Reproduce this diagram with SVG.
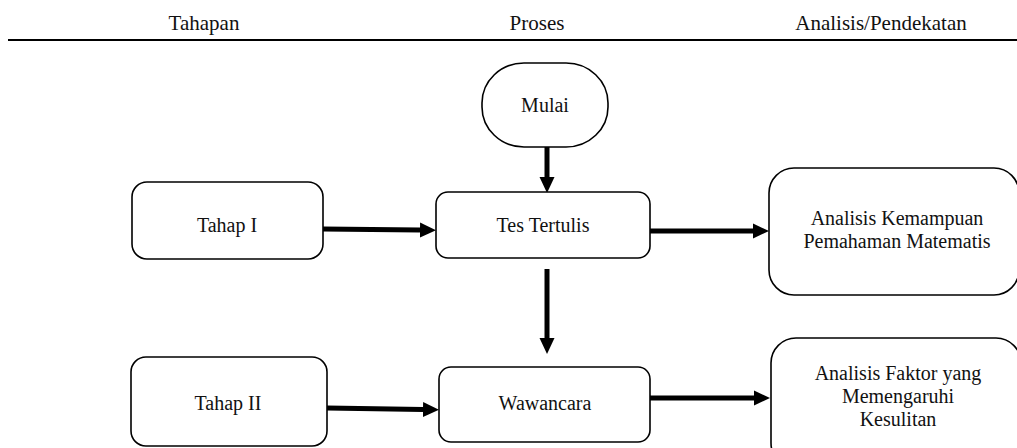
<svg xmlns="http://www.w3.org/2000/svg" width="1017" height="448" viewBox="0 0 1017 448">
<style>
  text { font-family: "Liberation Serif", "Times New Roman", serif; font-size: 20px; fill: #111; text-anchor: middle; }
  .hdr { font-size: 21px; }
  .box { fill: #fff; stroke: #000; stroke-width: 1.6; }
  .arrow { stroke: #000; stroke-width: 5; fill: none; marker-end: url(#head); }
</style>
<defs>
  <marker id="head" viewBox="0 0 16 16" refX="0" refY="8" markerWidth="16" markerHeight="16" markerUnits="userSpaceOnUse" orient="auto">
    <path d="M0,0.5 L16,8 L0,15.5 z" fill="#000"/>
  </marker>
</defs>
<rect width="1017" height="448" fill="#fff"/>
<g id="header">
  <line x1="8" y1="40" x2="1017" y2="40" stroke="#000" stroke-width="2"/>
  <text class="hdr" x="204" y="30">Tahapan</text>
  <text class="hdr" x="537" y="30">Proses</text>
  <text class="hdr" x="881" y="30">Analisis/Pendekatan</text>
</g>
<g id="connectors">
  <line class="arrow" x1="547" y1="147" x2="547" y2="177"/>
  <line class="arrow" x1="323" y1="229" x2="420" y2="230"/>
  <line class="arrow" x1="650" y1="231" x2="753" y2="231"/>
  <line class="arrow" x1="547" y1="269" x2="547" y2="338"/>
  <line class="arrow" x1="327" y1="408" x2="423" y2="409.5"/>
  <line class="arrow" x1="650" y1="398" x2="754" y2="398"/>
</g>
<g id="mulai">
  <rect class="box" x="482" y="63" width="126" height="84" rx="42" ry="40"/>
  <text x="545" y="112">Mulai</text>
</g>
<g id="tahap1">
  <rect class="box" x="132" y="182" width="191" height="77" rx="15"/>
  <text x="227" y="232">Tahap I</text>
</g>
<g id="tes-tertulis">
  <rect class="box" x="436" y="192" width="214" height="66" rx="12"/>
  <text x="543" y="232">Tes Tertulis</text>
</g>
<g id="analisis-kemampuan">
  <rect class="box" x="769" y="168" width="250" height="127" rx="25"/>
  <text x="897" y="225">Analisis Kemampuan</text>
  <text x="897" y="248">Pemahaman Matematis</text>
</g>
<g id="tahap2">
  <rect class="box" x="131" y="357" width="196" height="89" rx="15"/>
  <text x="228" y="410">Tahap II</text>
</g>
<g id="wawancara">
  <rect class="box" x="439" y="367" width="211" height="75" rx="12"/>
  <text x="545" y="410">Wawancara</text>
</g>
<g id="analisis-faktor">
  <rect class="box" x="771" y="338" width="250" height="130" rx="25"/>
  <text x="898" y="380">Analisis Faktor yang</text>
  <text x="898" y="403">Memengaruhi</text>
  <text x="898" y="426">Kesulitan</text>
</g>
</svg>
